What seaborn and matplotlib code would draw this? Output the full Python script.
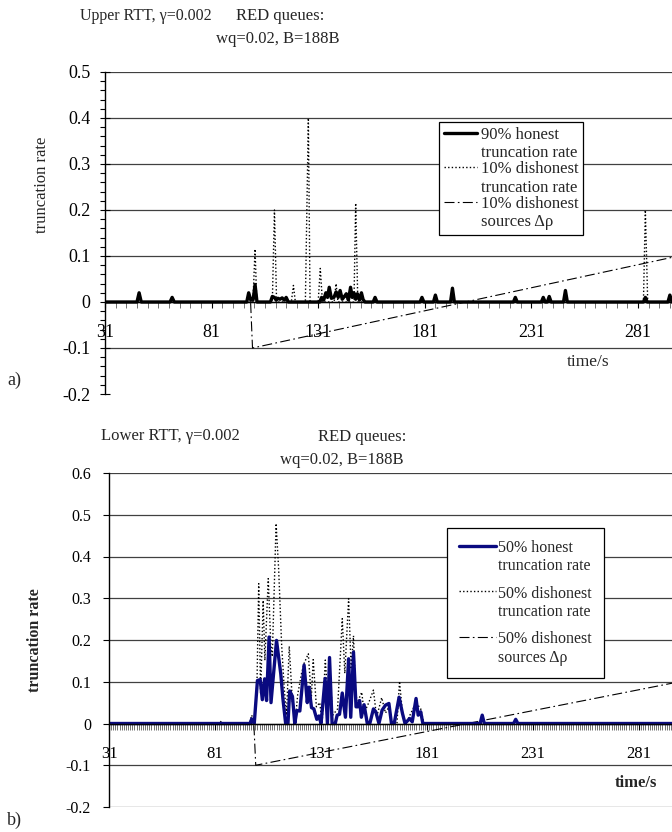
import numpy as np
import matplotlib
matplotlib.use("Agg")
import matplotlib.pyplot as plt
import seaborn as sns
from matplotlib.ticker import FixedLocator, FuncFormatter

# ---- data (time in s, truncation rate) ----
# a) upper RTT
hon_a_t = [31, 46, 47, 48, 61.5, 62.5, 63.5, 97.5, 98.4, 99.4, 100.5, 101.4, 102.3,
           108.6, 109.5, 110.5, 111.3, 112.2, 113.1, 114.1, 115.1, 116, 117,
           131.8, 132.6, 133.6, 134.6, 135.4, 136.2, 137.2, 138.4, 139.4, 140.4,
           141.3, 142.3, 143.3, 144.2, 145.2, 146.2, 147, 147.8, 148.6, 149.4,
           150.4, 151.3, 152.1, 153, 156.8, 157.7, 158.6, 178.8, 179.7, 180.6,
           185.1, 186, 186.9, 193.1, 194, 194.9, 222.6, 223.5, 224.4, 235.7,
           236.6, 237.5, 238.5, 239.4, 240.3, 246.1, 247, 247.9, 283.6, 284.5,
           285.4, 295.1, 296, 297]
hon_a_v = [0, 0, 0.02, 0, 0, 0.01, 0, 0, 0.02, 0.004, 0.005, 0.038, 0,
           0, 0.012, 0.01, 0.004, 0.008, 0.006, 0.009, 0.004, 0.01, 0,
           0, 0.01, 0.004, 0.02, 0.01, 0.032, 0.008, 0.01, 0.022, 0.01,
           0.025, 0.006, 0.012, 0.018, 0.004, 0.032, 0.01, 0.02, 0.006, 0.018,
           0.004, 0.02, 0.005, 0, 0, 0.01, 0, 0, 0.01, 0,
           0, 0.015, 0, 0, 0.03, 0, 0, 0.01, 0, 0,
           0.01, 0, 0, 0.012, 0, 0, 0.025, 0, 0, 0.01,
           0, 0, 0.015, 0]
dis_a_t = [31, 100.4, 101.4, 102.2, 109.5, 110.5, 111.5, 118.4, 119.4, 120.3,
           125, 126.4, 127.2, 131, 132, 133, 138.5, 139.4, 140.3, 147.8, 148.6,
           149.6, 283.6, 284.5, 285.6, 297]
dis_a_v = [0, 0, 0.115, 0, 0, 0.2, 0, 0, 0.036, 0,
           0, 0.4, 0, 0, 0.073, 0, 0, 0.04, 0, 0, 0.215,
           0, 0, 0.2, 0, 0]
rho_t = [31, 99.3, 100.2, 297]
rho_a_v = [0, 0, -0.1, 0.097]

# b) lower RTT
hon_b_t = [31, 97.5, 98.3, 99.5, 101, 102.3, 103.3, 104.4, 105.3, 106.5, 107.4,
           110, 112, 113, 114.3, 115.4, 116.2, 117.5, 118.6, 119.6, 121, 123,
           124.5, 125.3, 126.5, 127.6, 129, 130, 131, 132.9, 134, 135, 136.2,
           137.7, 138.6, 139.7, 141, 142.5, 144, 145, 146.3, 147.5, 148.4, 149.2,
           150, 151.3, 152.8, 154, 155.7, 156.8, 158.3, 159.8, 161.4, 163, 164.2,
           165.5, 167.8, 169.4, 170.6, 172.8, 174, 175.8, 176.8, 178, 179, 206,
           207, 208, 221.8, 222.8, 223.8, 297]
hon_b_v = [0, 0, 0.011, 0, 0.103, 0.105, 0.057, 0.107, 0.055, 0.207, 0.05,
           0.199, 0.119, 0.06, 0, 0, 0.078, 0.065, 0, 0.031, 0.03, 0.14,
           0.05, 0.087, 0.038, 0.035, 0.01, 0.018, 0, 0.108, 0, 0.158, 0,
           0, 0.02, 0.022, 0.073, 0.015, 0.155, 0.015, 0.171, 0.04, 0.04, 0.055,
           0.015, 0.045, 0, 0, 0.035, 0.028, 0, 0.032, 0.044, 0.048, 0,
           0, 0.063, 0.024, 0, 0.012, 0.004, 0.06, 0.02, 0.028, 0, 0,
           0.02, 0, 0, 0.01, 0, 0]
dis_b_t = [31, 83, 84, 85, 97.3, 98.3, 99.5, 100.8, 101.6, 102.5, 103.7, 104.5,
           106.1, 107.3, 108, 109.8, 111, 112.4, 113.6, 114.7, 116, 117.5, 118.8,
           120, 121.8, 123, 125, 126.4, 127.3, 128.8, 130.4, 131.5, 133, 134, 135,
           136.5, 138.8, 141, 142.2, 144, 145.2, 146.3, 147.3, 148.5, 150.2,
           151.3, 153.5, 155.7, 157.2, 159.6, 161.4, 163, 164.5, 166.8, 168,
           169.4, 171, 175.8, 178, 179.5, 297]
dis_b_v = [0, 0, 0.006, 0, 0, 0.02, 0, 0.1, 0.335, 0.07, 0.295, 0.151,
           0.347, 0.19, 0.16, 0.479, 0.37, 0.19, 0.086, 0.02, 0.185, 0.05, 0.005,
           0.07, 0.12, 0.144, 0.167, 0.06, 0.153, 0.04, 0.05, 0, 0.152, 0.08, 0.13,
           0.02, 0.035, 0.251, 0.12, 0.299, 0.13, 0.21, 0.065, 0.055, 0.075,
           0.025, 0.05, 0.08, 0.015, 0.062, 0.025, 0.04, 0, 0, 0.101,
           0.025, 0, 0.05, 0.035, 0, 0]
rho_b_v = [0, 0, -0.1, 0.097]

xlabels = [31, 81, 131, 181, 231, 281]

sns.set_theme(style="white")
plt.rcParams['font.family'] = ['Liberation Serif', 'DejaVu Serif']
plt.rcParams['axes.edgecolor'] = 'black'
plt.rcParams['xtick.color'] = 'black'
plt.rcParams['ytick.color'] = 'black'

fig = plt.figure(figsize=(6.72, 8.32), dpi=100)
W, H = 672, 832
ax1 = fig.add_axes([105 / W, 1 - 394 / H, 1 - 105 / W, (394 - 72) / H])
ax2 = fig.add_axes([109 / W, 1 - 807 / H, 1 - 109 / W, (807 - 473) / H])

dotted = (0, (1, 1.6))
dashdot = (0, (9, 3, 1.5, 3))


def fmt(v, pos):
    return '0' if abs(v) < 1e-9 else f'{v:.1f}'


def style_axis(ax, ymax, xmax, xminor, xtick_fs, ytick_fs, ytick_minor):
    ax.set_xlim(31, xmax)
    ax.set_ylim(-0.2, ymax)
    ax.set_yticks(np.round(np.arange(-0.2, ymax + 0.01, 0.1), 1))
    ax.yaxis.set_major_formatter(FuncFormatter(fmt))
    ax.yaxis.grid(True, color='0.25', lw=0.9)
    ax.xaxis.grid(False)
    for s in ['top', 'right']:
        ax.spines[s].set_visible(False)
    ax.spines['left'].set_linewidth(1.0)
    ax.spines['bottom'].set_position(('data', 0))
    ax.spines['bottom'].set_linewidth(1.0)
    ax.xaxis.set_major_locator(FixedLocator(xlabels))
    ax.xaxis.set_minor_locator(FixedLocator(xminor))
    ax.tick_params(axis='x', which='both', direction='out', length=4, width=0.8,
                   bottom=True, pad=12, labelsize=xtick_fs)
    ax.tick_params(axis='x', which='minor', color='0.35', width=0.6)
    ax.tick_params(axis='y', which='major', direction='inout', length=7, width=0.8,
                   left=True, pad=7, labelsize=ytick_fs)
    if ytick_minor:
        ax.yaxis.set_minor_locator(FixedLocator(np.arange(-0.2, ymax + 0.001, 0.02)))
        ax.tick_params(axis='y', which='minor', direction='out', length=3.5,
                       width=0.8, left=True)
    ax.set_xlabel('')
    ax.set_ylabel('')


# ---- panel a ----
sns.lineplot(x=rho_t, y=rho_a_v, ax=ax1, color='black', lw=0.8, linestyle=dashdot,
             estimator=None, sort=False, label='10% dishonest\nsources \u0394\u03c1')
sns.lineplot(x=dis_a_t, y=dis_a_v, ax=ax1, color='black', lw=1.0, linestyle=dotted,
             estimator=None, sort=False, label='10% dishonest\ntruncation rate')
sns.lineplot(x=hon_a_t, y=hon_a_v, ax=ax1, color='black', lw=2.4,
             estimator=None, sort=False, label='90% honest\ntruncation rate')
style_axis(ax1, 0.5, 297, list(range(31, 298, 5)), 13, 13, True)
ax1.get_ygridlines()[0].set_visible(False)

h, l = ax1.get_legend_handles_labels()
leg1 = ax1.legend(h[::-1], l[::-1], loc='upper left',
                  bbox_to_anchor=(439 / W, 1 - 122 / H), bbox_transform=fig.transFigure,
                  borderaxespad=0, fontsize=12, frameon=True, fancybox=False,
                  edgecolor='black', framealpha=1, borderpad=0.3, labelspacing=0.0,
                  handlelength=2.0, handletextpad=0.2)
leg1.get_frame().set_linewidth(0.9)

fig.text(146 / W, 1 - 16 / H, 'Upper RTT, \u03b3=0.002', ha='center', va='center', fontsize=11.5)
fig.text(280 / W, 1 - 16 / H, 'RED queues:', ha='center', va='center', fontsize=12)
fig.text(278 / W, 1 - 39 / H, 'wq=0.02, B=188B', ha='center', va='center', fontsize=12)
fig.text(588 / W, 1 - 362 / H, 'time/s', ha='center', va='center', fontsize=12.5)
fig.text(42 / W, 1 - 185 / H, 'truncation rate', ha='center', va='center',
         rotation=90, fontsize=12)
fig.text(14 / W, 1 - 380 / H, 'a)', ha='center', va='center', fontsize=13)

# ---- panel b ----
sns.lineplot(x=rho_t, y=rho_b_v, ax=ax2, color='black', lw=0.8, linestyle=dashdot,
             estimator=None, sort=False, label='50% dishonest\nsources \u0394\u03c1')
sns.lineplot(x=dis_b_t, y=dis_b_v, ax=ax2, color='black', lw=1.0, linestyle=dotted,
             estimator=None, sort=False, label='50% dishonest\ntruncation rate')
sns.lineplot(x=hon_b_t, y=hon_b_v, ax=ax2, color='#0a0a80', lw=2.4,
             estimator=None, sort=False, label='50% honest\ntruncation rate')
style_axis(ax2, 0.6, 296.5, list(range(31, 297)), 12, 11.5, False)
ax2.tick_params(axis='y', which='major', direction='out', length=4, pad=9)

h, l = ax2.get_legend_handles_labels()
leg2 = ax2.legend(h[::-1], l[::-1], loc='upper left',
                  bbox_to_anchor=(447 / W, 1 - 528 / H), bbox_transform=fig.transFigure,
                  borderaxespad=0, fontsize=11.5, frameon=True, fancybox=False,
                  edgecolor='black', framealpha=1, borderpad=0.75, labelspacing=0.7,
                  handlelength=2.3, handletextpad=0.15)
leg2.get_frame().set_linewidth(0.9)

for leg in (leg1, leg2):
    for col in leg._legend_handle_box.get_children():
        for row in col.get_children():
            row.align = 'top'

fig.text(170 / W, 1 - 436 / H, 'Lower RTT, \u03b3=0.002', ha='center', va='center', fontsize=12)
fig.text(362 / W, 1 - 437 / H, 'RED queues:', ha='center', va='center', fontsize=12)
fig.text(342 / W, 1 - 460 / H, 'wq=0.02, B=188B', ha='center', va='center', fontsize=12)
fig.text(636 / W, 1 - 783 / H, 'time/s', ha='center', va='center', fontsize=12,
         fontweight='bold')
fig.text(35 / W, 1 - 640 / H, 'truncation rate', ha='center', va='center',
         rotation=90, fontsize=11.5, fontweight='bold')
fig.text(14 / W, 1 - 820 / H, 'b)', ha='center', va='center', fontsize=13)

fig.savefig('out.png', dpi=100)
